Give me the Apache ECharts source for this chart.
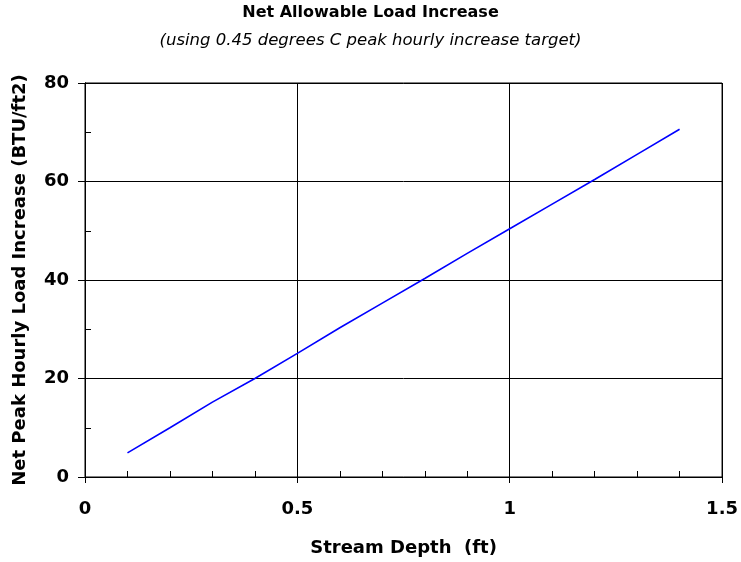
<!DOCTYPE html>
<html>
<head>
<meta charset="utf-8">
<script src="https://cdn.jsdelivr.net/npm/echarts@6/dist/echarts.min.js"></script>
<style>
  html, body { margin: 0; padding: 0; background: #ffffff; }
  #chart { width: 741px; height: 562px; }
</style>
</head>
<body>
<div id="chart"></div>
<script>
// Stream depth (ft) and the allowable net peak hourly load increase (BTU/ft2)
const depthFt = [0.1, 0.2, 0.3, 0.4, 0.5, 0.6, 0.7, 0.8, 0.9, 1.0, 1.1, 1.2, 1.3, 1.4];
const loadIncrease = [4.9, 10.0, 15.2, 20.0, 25.1, 30.3, 35.3, 40.3, 45.4, 50.4, 55.4, 60.4, 65.5, 70.6];

const titleText = 'Net Allowable Load Increase';
const subtitleText = '(using 0.45 degrees C peak hourly increase target)';
const xAxisName = 'Stream Depth  (ft)';
const yAxisName = 'Net Peak Hourly Load Increase (BTU/ft2)';

const xRange = { min: 0, max: 1.5, major: 0.5, minor: 0.1 };
const yRange = { min: 0, max: 80, major: 20, minor: 10 };

const FONT = 'DejaVu Sans';

const chart = echarts.init(document.getElementById('chart'), null, { renderer: 'canvas' });

const points = depthFt.map((d, i) => [d, loadIncrease[i]]);

chart.setOption({
  animation: false,
  backgroundColor: '#ffffff',
  title: [
    {
      text: titleText,
      left: 'center',
      top: 0,
      textStyle: { fontFamily: FONT, fontSize: 16, fontWeight: 'bold', color: '#000' }
    },
    {
      text: subtitleText,
      left: 'center',
      top: 27,
      textStyle: { fontFamily: FONT, fontSize: 16.5, fontWeight: 'normal', fontStyle: 'italic', color: '#000' }
    }
  ],
  grid: {
    left: 85, right: 18, top: 83, bottom: 85,
    show: true, borderColor: '#000', borderWidth: 1, backgroundColor: 'transparent'
  },
  xAxis: [
    {
      type: 'value',
      min: xRange.min, max: xRange.max, interval: xRange.major,
      name: xAxisName,
      nameLocation: 'middle',
      nameGap: 62,
      nameTextStyle: { fontFamily: FONT, fontSize: 18, fontWeight: 'bold', color: '#000' },
      axisLine: { show: true, lineStyle: { color: '#000', width: 1 } },
      axisTick: { show: true, inside: false, length: 6, lineStyle: { color: '#000' } },
      axisLabel: { margin: 23, fontFamily: FONT, fontSize: 18, fontWeight: 'bold', color: '#000' },
      splitLine: { show: true, lineStyle: { color: '#000', width: 1 } }
    },
    {
      // inner minor ticks every 0.1 ft
      type: 'value',
      position: 'bottom',
      min: xRange.min, max: xRange.max, interval: xRange.minor,
      axisLine: { show: true, lineStyle: { color: '#000', width: 1 } },
      axisTick: { show: true, inside: true, length: 6, lineStyle: { color: '#000' } },
      axisLabel: { show: false },
      splitLine: { show: false }
    }
  ],
  yAxis: [
    {
      type: 'value',
      min: yRange.min, max: yRange.max, interval: yRange.major,
      name: yAxisName,
      nameLocation: 'middle',
      nameGap: 56,
      nameTextStyle: { fontFamily: FONT, fontSize: 18, fontWeight: 'bold', color: '#000' },
      axisLine: { show: true, lineStyle: { color: '#000', width: 1 } },
      axisTick: { show: true, inside: false, length: 7, lineStyle: { color: '#000' } },
      axisLabel: { margin: 16, fontFamily: FONT, fontSize: 18, fontWeight: 'bold', color: '#000' },
      splitLine: { show: true, lineStyle: { color: '#000', width: 1 } }
    },
    {
      // inner minor ticks every 10 units
      type: 'value',
      position: 'left',
      min: yRange.min, max: yRange.max, interval: yRange.minor,
      axisLine: { show: true, lineStyle: { color: '#000', width: 1 } },
      axisTick: { show: true, inside: true, length: 6, lineStyle: { color: '#000' } },
      axisLabel: { show: false },
      splitLine: { show: false }
    }
  ],
  series: [
    {
      type: 'line',
      xAxisIndex: 0,
      yAxisIndex: 0,
      data: points,
      showSymbol: false,
      symbol: 'none',
      lineStyle: { color: '#0000ff', width: 1.6 },
      silent: true
    }
  ]
});
</script>
</body>
</html>
